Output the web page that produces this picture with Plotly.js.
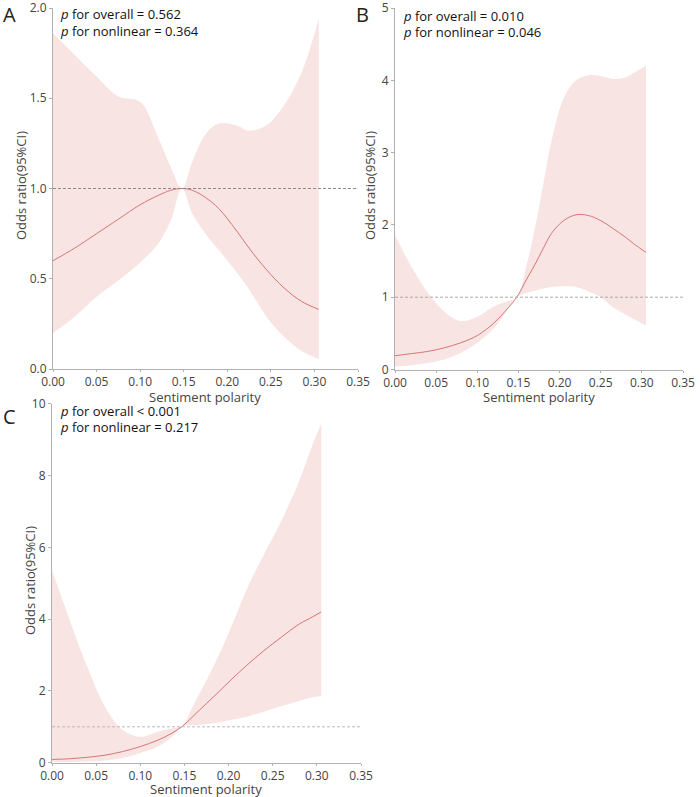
<!DOCTYPE html>
<html>
<head>
<meta charset="utf-8">
<script src="https://cdn.plot.ly/plotly-3.0.1.min.js"></script>
<style>
  html, body { margin: 0; padding: 0; background: #fff; }
  #chart { width: 700px; height: 797px; }
</style>
</head>
<body>
<div id="chart"></div>
<script>
// values
var xA = [0, 0.025, 0.05, 0.075, 0.1, 0.12, 0.135, 0.148, 0.16, 0.175, 0.19, 0.21, 0.225, 0.245, 0.265, 0.285, 0.305];
var upperA = [1.86, 1.74, 1.62, 1.51, 1.48, 1.29, 1.12, 1.0, 1.15, 1.30, 1.36, 1.35, 1.32, 1.35, 1.46, 1.64, 1.94];
var lowerA = [0.20, 0.29, 0.40, 0.49, 0.59, 0.69, 0.82, 1.0, 0.86, 0.75, 0.66, 0.54, 0.44, 0.29, 0.18, 0.10, 0.055];
var orA = [0.60, 0.67, 0.75, 0.83, 0.91, 0.96, 0.99, 1.0, 0.99, 0.95, 0.89, 0.77, 0.67, 0.55, 0.45, 0.375, 0.33];

var xB = [0, 0.02, 0.04, 0.06, 0.08, 0.1, 0.12, 0.135, 0.148, 0.16, 0.17, 0.18, 0.19, 0.205, 0.22, 0.235, 0.25, 0.265, 0.28, 0.29, 0.305];
var upperB = [1.86, 1.42, 1.06, 0.80, 0.67, 0.73, 0.87, 0.94, 1.0, 1.45, 1.95, 2.55, 3.15, 3.75, 4.0, 4.07, 4.06, 4.02, 4.04, 4.1, 4.2];
var lowerB = [0.04, 0.06, 0.09, 0.14, 0.23, 0.37, 0.57, 0.80, 1.0, 1.06, 1.09, 1.12, 1.14, 1.15, 1.14, 1.08, 1.0, 0.86, 0.76, 0.70, 0.61];
var orB = [0.19, 0.22, 0.25, 0.30, 0.37, 0.47, 0.64, 0.82, 1.0, 1.25, 1.45, 1.67, 1.88, 2.06, 2.14, 2.13, 2.06, 1.95, 1.83, 1.74, 1.62];

var xC = [0, 0.02, 0.04, 0.06, 0.08, 0.1, 0.12, 0.135, 0.148, 0.16, 0.175, 0.19, 0.205, 0.22, 0.24, 0.26, 0.28, 0.295, 0.305];
var upperC = [5.37, 3.97, 2.67, 1.56, 0.91, 0.72, 0.86, 0.95, 1.05, 1.6, 2.3, 3.05, 3.9, 4.8, 5.8, 6.75, 7.85, 8.85, 9.45];
var lowerC = [0.02, 0.02, 0.03, 0.06, 0.13, 0.27, 0.45, 0.70, 1.02, 1.04, 1.08, 1.13, 1.20, 1.28, 1.42, 1.58, 1.72, 1.82, 1.86];
var orC = [0.09, 0.11, 0.15, 0.21, 0.31, 0.45, 0.63, 0.81, 1.02, 1.3, 1.65, 2.0, 2.36, 2.7, 3.12, 3.5, 3.86, 4.06, 4.2];

var pOverall = ['= 0.562', '= 0.010', '< 0.001'];
var pNonlinear = ['0.364', '0.046', '0.217'];
var panelLetters = ['A', 'B', 'C'];
var refOR = 1;

var FONT = '"Open Sans", "Noto Sans", sans-serif';
var bandColor = '#f9e4e4';
var lineColor = '#d06a68';

function panelTraces(x, lower, upper, est, xa, ya) {
  return [
    { x: x, y: lower, xaxis: xa, yaxis: ya, mode: 'lines', hoverinfo: 'skip',
      line: { width: 0, shape: 'spline', smoothing: 1 } },
    { x: x, y: upper, xaxis: xa, yaxis: ya, mode: 'lines', fill: 'tonexty', fillcolor: bandColor,
      hoverinfo: 'skip', line: { width: 0, shape: 'spline', smoothing: 1 } },
    { x: x, y: est, xaxis: xa, yaxis: ya, mode: 'lines',
      line: { width: 0.9, color: lineColor, shape: 'spline', smoothing: 1 } }
  ];
}

var data = []
  .concat(panelTraces(xA, lowerA, upperA, orA, 'x', 'y'))
  .concat(panelTraces(xB, lowerB, upperB, orB, 'x2', 'y2'))
  .concat(panelTraces(xC, lowerC, upperC, orC, 'x3', 'y3'));

function xAxis(domain, anchor) {
  return {
    domain: domain, anchor: anchor, range: [0, 0.35], tick0: 0, dtick: 0.05, tickformat: '.2f',
    showline: true, linecolor: '#b0b0b0', linewidth: 1, ticks: 'outside', ticklen: 2, tickcolor: '#b0b0b0',
    showgrid: false, zeroline: false, fixedrange: true, ticklabeloverflow: 'allow',
    tickfont: { family: FONT, size: 12, color: '#444' }
  };
}

function yAxis(domain, anchor, top, step, fmt) {
  return {
    domain: domain, anchor: anchor, range: [0, top], tick0: 0, dtick: step, tickformat: fmt,
    showline: true, linecolor: '#b0b0b0', linewidth: 1, ticks: 'outside', ticklen: 3, tickcolor: '#b0b0b0',
    showgrid: false, zeroline: false, fixedrange: true, ticklabeloverflow: 'allow',
    tickfont: { family: FONT, size: 12, color: '#444' }
  };
}

function paperText(px, py, text, size, color, anchor, angle) {
  return {
    xref: 'paper', yref: 'paper', x: px / 700, y: 1 - py / 797,
    xanchor: anchor, yanchor: 'middle', showarrow: false, text: text, textangle: angle || 0,
    borderpad: 0, font: { family: FONT, size: size, color: color }
  };
}

var annotations = [];
var letterPos = [[9, 15], [362, 15], [9, 416]];
var textPos = [[59, 14, 31], [402, 16, 32], [59, 411, 427]];
var xTitlePos = [[205, 397], [539, 397], [206, 789]];
var yTitlePos = [[21, 186], [370, 186], [30, 581]];
for (var i = 0; i < 3; i++) {
  annotations.push(paperText(letterPos[i][0], letterPos[i][1], panelLetters[i], 20, '#222', 'center'));
  annotations.push(paperText(textPos[i][0], textPos[i][1],
    '<i>p</i> for overall ' + pOverall[i], 13, '#111', 'left'));
  annotations.push(paperText(textPos[i][0], textPos[i][2],
    '<i>p</i> for nonlinear = ' + pNonlinear[i], 13, '#111', 'left'));
  annotations.push(paperText(xTitlePos[i][0], xTitlePos[i][1], 'Sentiment polarity', 13, '#444', 'center'));
  annotations.push(paperText(yTitlePos[i][0], yTitlePos[i][1], 'Odds ratio(95%CI)', 13, '#444', 'center', -90));
}

var shapes = [['x', 'y', '#8a8a8a'], ['x2', 'y2', '#aaa'], ['x3', 'y3', '#bbb']].map(function (s) {
  return {
    type: 'line', xref: s[0] + ' domain', yref: s[1], x0: 0, x1: 1, y0: refOR, y1: refOR,
    line: { color: s[2], width: 1, dash: '3px,2px' }, layer: 'above'
  };
});

var layout = {
  width: 700, height: 797,
  margin: { l: 0, r: 0, t: 0, b: 0 },
  paper_bgcolor: '#fff', plot_bgcolor: '#fff',
  showlegend: false,
  font: { family: FONT },
  xaxis: xAxis([53 / 700, 358 / 700], 'y'),
  yaxis: yAxis([1 - 369 / 797, 1 - 8 / 797], 'x', 2, 0.5, '.1f'),
  xaxis2: xAxis([395 / 700, 683 / 700], 'y2'),
  yaxis2: yAxis([1 - 369.5 / 797, 1 - 8 / 797], 'x2', 5, 1, 'd'),
  xaxis3: xAxis([52 / 700, 361 / 700], 'y3'),
  yaxis3: yAxis([1 - 762.7 / 797, 1 - 403.7 / 797], 'x3', 10, 2, 'd'),
  annotations: annotations,
  shapes: shapes
};

Plotly.newPlot('chart', data, layout, { displayModeBar: false, staticPlot: true });
</script>
</body>
</html>
